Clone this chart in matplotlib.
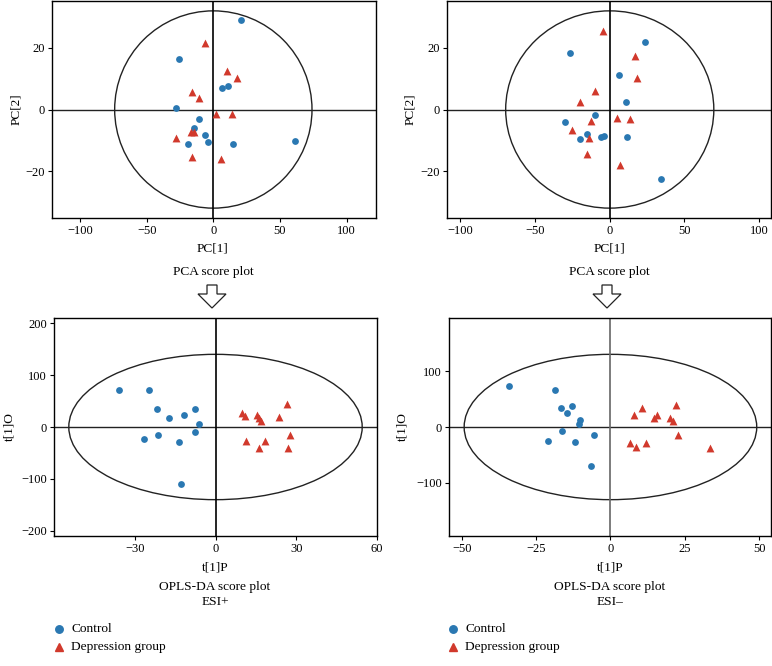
import numpy as np
import matplotlib
matplotlib.use("Agg")
import matplotlib.pyplot as plt
from matplotlib.patches import Ellipse, Polygon

plt.rcParams['font.family'] = ['Liberation Serif', 'DejaVu Serif']
plt.rcParams['font.size'] = 9

# PCA ESI+ (top left)
pca_pos_ctrl_x = [21.0, -25.7, 6.7, 11.2, -28.0, -10.5, -14.7, -6.2, -18.7, -3.7, 15.0, 61.2]
pca_pos_ctrl_y = [28.9, 16.3, 6.9, 7.6, 0.5, -3.1, -6.1, -8.3, -11.3, -10.5, -11.3, -10.3]
pca_pos_dep_x = [-6.5, 10.0, 18.0, -16.2, -10.5, 2.2, 13.7, -16.5, -14.2, -28.0, -15.7, 6.0]
pca_pos_dep_y = [21.5, 12.5, 10.2, 5.7, 3.8, -1.4, -1.5, -7.3, -7.4, -9.4, -15.3, -16.2]

# PCA ESI- (top right)
pca_neg_ctrl_x = [23.9, -26.8, 6.5, 10.7, -10.0, -29.9, -15.4, -19.6, -5.8, -3.8, 11.8, 34.2]
pca_neg_ctrl_y = [21.8, 18.4, 11.3, 2.4, -1.8, -4.0, -8.0, -9.6, -9.0, -8.6, -8.8, -22.6]
pca_neg_dep_x = [-4.2, 16.7, 18.1, -10.0, -19.6, -12.5, 4.7, 13.4, -25.2, -14.1, -15.4, 7.1]
pca_neg_dep_y = [25.6, 17.2, 10.1, 6.0, 2.3, -3.7, -2.8, -3.2, -6.7, -9.1, -14.5, -18.1]

# OPLS-DA ESI+ (bottom left)
opls_pos_ctrl_x = [-35.8, -24.7, -21.6, -7.8, -17.3, -11.8, -6.3, -7.8, -26.5, -21.4, -13.4, -13.0]
opls_pos_ctrl_y = [71.8, 71.8, 35.3, 35.3, 17.9, 22.4, 5.8, -9.0, -22.4, -15.4, -28.2, -109.0]
opls_pos_dep_x = [9.8, 10.9, 15.5, 16.3, 16.8, 23.7, 26.5, 27.8, 11.3, 18.4, 16.1, 27.1]
opls_pos_dep_y = [26.9, 21.8, 23.1, 17.9, 10.9, 19.2, 44.9, -15.4, -26.3, -27.6, -40.4, -40.4]

# OPLS-DA ESI- (bottom right)
opls_neg_ctrl_x = [-34.1, -18.6, -16.5, -12.9, -14.6, -10.1, -10.5, -16.4, -5.4, -21.1, -11.8, -6.4]
opls_neg_ctrl_y = [72.6, 66.7, 33.9, 38.1, 24.4, 11.9, 6.0, -6.5, -13.7, -25.6, -27.4, -69.0]
opls_neg_dep_x = [22.1, 10.7, 7.8, 15.8, 14.6, 20.1, 21.1, 22.8, 6.5, 8.6, 12.1, 33.6]
opls_neg_dep_y = [39.3, 33.9, 20.8, 22.0, 15.5, 16.1, 11.3, -14.3, -29.2, -36.3, -29.2, -38.1]

# Hotelling T2 ellipse half-axes
ell_pca_pos = (74, 32)
ell_pca_neg = (69.7, 32)
ell_opls_pos = (54.5, 140)
ell_opls_neg = (49.2, 130)

blue = '#2a78b2'
red = '#d1392c'
W, H = 772, 666

fig = plt.figure(figsize=(7.72, 6.66), dpi=100)


def fx(px):
    return px / W


def fy(py):
    return 1 - py / H


def panel(rect, cx, cy, dx, dy, ell, xlim, ylim, xticks, yticks, vcol='black'):
    l, t, r, b = rect
    ax = fig.add_axes([fx(l), fy(b), fx(r) - fx(l), fy(t) - fy(b)])
    ax.add_patch(Ellipse((0, 0), 2 * ell[0], 2 * ell[1], fill=False, ec='#222222', lw=1.0))
    ax.axhline(0, color='#222222', lw=1.0)
    ax.axvline(0, color=vcol, lw=1.2)
    ax.scatter(cx, cy, s=24, color=blue, marker='o', lw=0, zorder=3)
    ax.scatter(dx, dy, s=32, color=red, marker='^', lw=0, zorder=3)
    ax.set_xlim(xlim)
    ax.set_ylim(ylim)
    ax.set_xticks(xticks)
    ax.set_yticks(yticks)
    ax.tick_params(direction='out', length=3, width=0.8, labelsize=9, pad=2)
    for s in ax.spines.values():
        s.set_linewidth(1.0)
    return ax


panel((52, 1, 376, 218), pca_pos_ctrl_x, pca_pos_ctrl_y, pca_pos_dep_x, pca_pos_dep_y,
      ell_pca_pos, (-121, 122), (-35.2, 35.2), [-100, -50, 0, 50, 100], [-20, 0, 20])
panel((447, 1, 771, 218), pca_neg_ctrl_x, pca_neg_ctrl_y, pca_neg_dep_x, pca_neg_dep_y,
      ell_pca_neg, (-109, 108), (-35.2, 35.2), [-100, -50, 0, 50, 100], [-20, 0, 20])
panel((54, 318, 377, 536), opls_pos_ctrl_x, opls_pos_ctrl_y, opls_pos_dep_x, opls_pos_dep_y,
      ell_opls_pos, (-60, 60), (-210, 210), [-30, 0, 30, 60], [-200, -100, 0, 100, 200])
panel((449, 318, 771, 536), opls_neg_ctrl_x, opls_neg_ctrl_y, opls_neg_dep_x, opls_neg_dep_y,
      ell_opls_neg, (-54.3, 54), (-195, 195), [-50, -25, 0, 25, 50], [-100, 0, 100], vcol='#666666')

fs = 9.6
# top labels
fig.text(fx(213), fy(249), 'PC[1]', ha='center', va='center', fontsize=fs)
fig.text(fx(213), fy(272), 'PCA score plot', ha='center', va='center', fontsize=fs)
fig.text(fx(16), fy(109), 'PC[2]', ha='center', va='center', rotation=90, fontsize=fs)
fig.text(fx(609), fy(249), 'PC[1]', ha='center', va='center', fontsize=fs)
fig.text(fx(609), fy(272), 'PCA score plot', ha='center', va='center', fontsize=fs)
fig.text(fx(410), fy(109), 'PC[2]', ha='center', va='center', rotation=90, fontsize=fs)

# bottom labels
fig.text(fx(215), fy(567), 't[1]P', ha='center', va='center', fontsize=fs)
fig.text(fx(215), fy(587), 'OPLS-DA score plot', ha='center', va='center', fontsize=fs)
fig.text(fx(215), fy(602), 'ESI+', ha='center', va='center', fontsize=fs)
fig.text(fx(9), fy(427), 't[1]O', ha='center', va='center', rotation=90, fontsize=fs)
fig.text(fx(610), fy(567), 't[1]P', ha='center', va='center', fontsize=fs)
fig.text(fx(610), fy(587), 'OPLS-DA score plot', ha='center', va='center', fontsize=fs)
fig.text(fx(610), fy(602), 'ESI\u2013', ha='center', va='center', fontsize=fs)
fig.text(fx(402), fy(427), 't[1]O', ha='center', va='center', rotation=90, fontsize=fs)


# hollow down arrows
def arrow(cx, top=285, neck=294, tip=308, sw=5, hw=14):
    pts = [(cx - sw, top), (cx + sw, top), (cx + sw, neck), (cx + hw, neck),
           (cx, tip), (cx - hw, neck), (cx - sw, neck)]
    fig.add_artist(Polygon([(fx(x), fy(y)) for x, y in pts], closed=True, fill=False,
                           ec='#222222', lw=0.9, transform=fig.transFigure))


arrow(212)
arrow(607)

# legends
for mx, tx in [(59, 71), (453, 465)]:
    fig.add_artist(plt.Line2D([fx(mx)], [fy(629)], marker='o', color=blue, ms=5.4, lw=0,
                              transform=fig.transFigure))
    fig.add_artist(plt.Line2D([fx(mx)], [fy(647)], marker='^', color=red, ms=5.8, lw=0,
                              transform=fig.transFigure))
    fig.text(fx(tx), fy(629), 'Control', ha='left', va='center', fontsize=fs)
    fig.text(fx(tx), fy(647), 'Depression group', ha='left', va='center', fontsize=fs)

fig.savefig('out.png', dpi=100)
